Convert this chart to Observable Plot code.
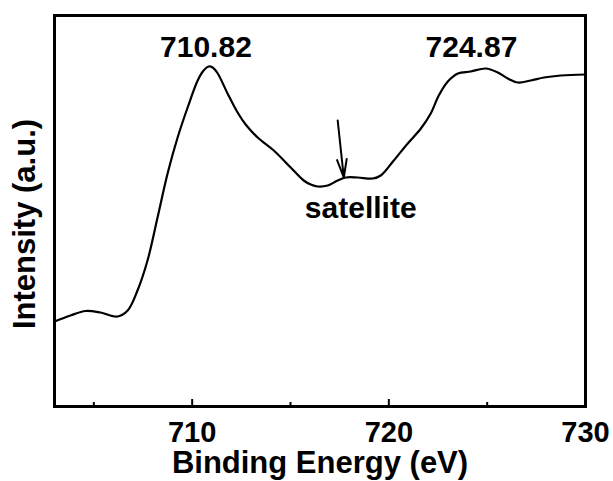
<!DOCTYPE html>
<html>
<head>
<meta charset="utf-8">
<script src="https://cdn.jsdelivr.net/npm/d3@7"></script>
<script src="https://cdn.jsdelivr.net/npm/@observablehq/plot@0.6"></script>
<style>
  html, body { margin: 0; padding: 0; background: #fff; }
  #chart { width: 613px; height: 481px; }
</style>
</head>
<body>
<div id="chart"></div>
<script>
// Binding energy (eV)
const energy = [703.00, 703.81, 704.58, 705.34, 706.21, 706.72, 707.22, 707.73, 708.24, 708.75,
  709.26, 709.77, 710.28, 710.58, 710.84, 711.04, 711.30, 711.80, 712.31, 712.72,
  713.33, 714.15, 715.01, 715.67, 716.03, 716.38, 716.89, 717.40, 717.81, 718.42,
  719.18, 719.59, 720.25, 720.96, 721.63, 722.13, 722.54, 723.00, 723.51, 724.17,
  724.93, 725.54, 726.05, 726.56, 727.22, 727.89, 728.75, 730.00];
// Intensity (a.u.)
const intensity = [85, 91, 95.5, 94, 90, 96, 116, 146, 189, 233,
  269, 299, 326, 336, 340, 339, 333, 313, 294, 282,
  269, 256, 239, 226, 222, 220, 221, 226, 229, 229,
  228, 231, 246, 263, 278, 293, 311, 325, 333, 335,
  338, 334, 328, 324, 326, 329, 331, 332];

const xDomain = [703, 730];
const yDomain = [0, 391];
const majorTicks = [710, 720, 730];
const minorTicks = [705, 715, 725];

const peakLabels = ["710.82", "724.87"];
const peakLabelX = [710.7, 724.2];
const peakLabelY = [359, 359];

const satelliteLabel = ["satellite"];
const satelliteX = [718.57];
const satelliteY = [198];
const arrowStart = [717.40, 286];
const arrowEnd = [717.71, 229];

const xTitle = "Binding Energy (eV)";
const yTitle = "Intensity (a.u.)";

const data = energy.map((e, i) => ({e, v: intensity[i]}));
const peaks = peakLabels.map((t, i) => ({t, x: peakLabelX[i], y: peakLabelY[i]}));
const sat = satelliteLabel.map((t, i) => ({t, x: satelliteX[i], y: satelliteY[i]}));
const arrows = [{x1: arrowStart[0], y1: arrowStart[1], x2: arrowEnd[0], y2: arrowEnd[1]}];

const chart = Plot.plot({
  width: 613,
  height: 481,
  marginLeft: 54,
  marginRight: 28,
  marginTop: 15,
  marginBottom: 75,
  style: {fontFamily: "'Liberation Sans', Arial, sans-serif", fontWeight: "bold", fontSize: "29px", background: "#fff"},
  x: {domain: xDomain},
  y: {domain: yDomain, axis: null},
  marks: [
    Plot.frame({stroke: "#000", strokeWidth: 3}),
    Plot.line(data, {x: "e", y: "v", stroke: "#000", strokeWidth: 2.2, curve: "catmull-rom"}),
    Plot.tickX(majorTicks, {x: d => d, stroke: "#000", strokeWidth: 2, insetTop: 384}),
    Plot.tickX(minorTicks, {x: d => d, stroke: "#000", strokeWidth: 2, insetTop: 387}),
    Plot.axisX(majorTicks, {tickSize: 0, tickPadding: 15, label: null, fontSize: 29, fill: "#000"}),
    Plot.text([xTitle], {frameAnchor: "bottom", text: d => d, textAnchor: "middle", lineAnchor: "middle", dy: 57, fontSize: 31, fill: "#000"}),
    Plot.text([yTitle], {frameAnchor: "left", text: d => d, textAnchor: "middle", rotate: -90, lineAnchor: "middle", dx: -29, dy: 13, fontSize: 31, fill: "#000"}),
    Plot.text(peaks, {x: "x", y: "y", text: "t", lineAnchor: "middle", fontSize: 30, fill: "#000"}),
    Plot.text(sat, {x: "x", y: "y", text: "t", lineAnchor: "middle", fontSize: 30, fill: "#000"}),
    Plot.arrow(arrows, {x1: "x1", y1: "y1", x2: "x2", y2: "y2", stroke: "#000", strokeWidth: 2, headLength: 14, headAngle: 30})
  ]
});
document.getElementById("chart").appendChild(chart);
</script>
</body>
</html>
